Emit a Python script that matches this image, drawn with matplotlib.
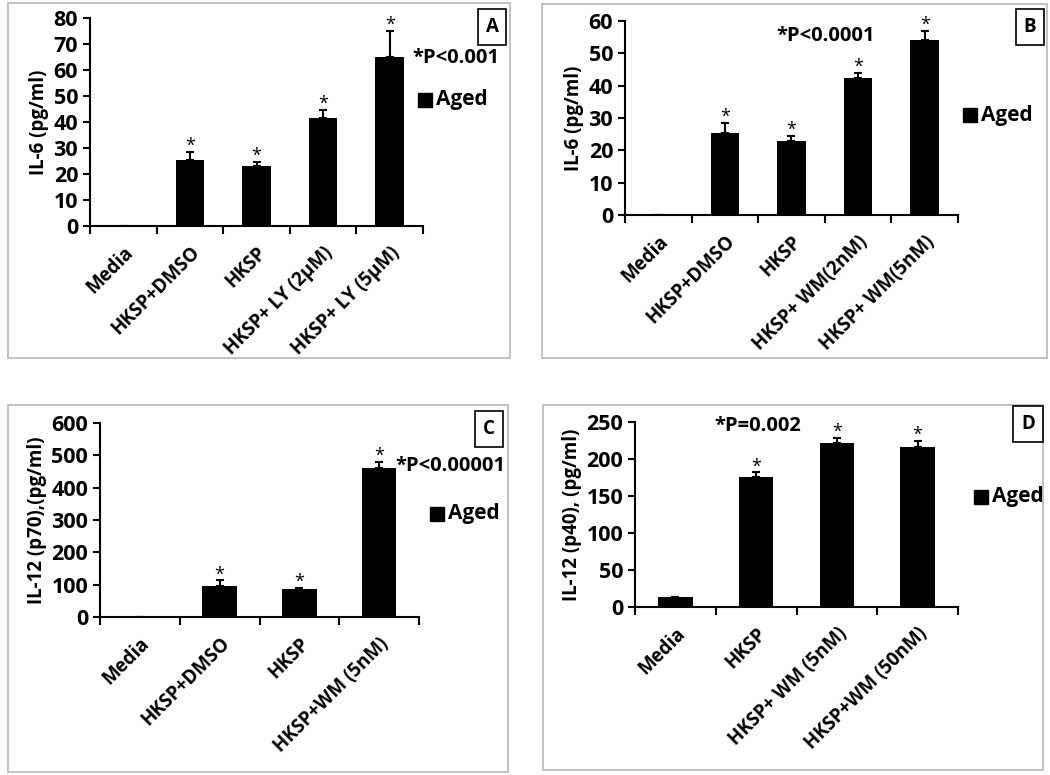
import matplotlib.pyplot as plt
import matplotlib.patches as mpatches
import numpy as np

plt.rcParams['font.family'] = ['Open Sans', 'DejaVu Sans']
plt.rcParams['font.weight'] = 'bold'

# Datos
cats_a = ['Media', 'HKSP+DMSO', 'HKSP', 'HKSP+ LY (2µM)', 'HKSP+ LY (5µM)']
vals_a = [0, 25.5, 23, 41.5, 65]
errs_a = [0, 3, 1.5, 3, 10]
star_a = [False, True, True, True, True]

cats_b = ['Media', 'HKSP+DMSO', 'HKSP', 'HKSP+ WM(2nM)', 'HKSP+ WM(5nM)']
vals_b = [0, 25.5, 23, 42.5, 54]
errs_b = [0, 3, 1.5, 1.5, 3]
star_b = [False, True, True, True, True]

cats_c = ['Media', 'HKSP+DMSO', 'HKSP', 'HKSP+WM (5nM)']
vals_c = [0, 97, 87, 460]
errs_c = [0, 16, 4, 20]
star_c = [False, True, True, True]

cats_d = ['Media', 'HKSP', 'HKSP+ WM (5nM)', 'HKSP+WM (50nM)']
vals_d = [13, 176, 222, 216]
errs_d = [1, 6, 7, 8]
star_d = [False, True, True, True]

W, H = 1050, 775
fig = plt.figure(figsize=(W / 100, H / 100), dpi=100)
fig.patch.set_facecolor('white')


def px_rect(x0, y0, x1, y1):
    """Convierte caja en píxeles (origen arriba-izquierda) a coords de figura."""
    return [x0 / W, 1 - y1 / H, (x1 - x0) / W, (y1 - y0) / H]


def panel_border(x0, y0, x1, y1):
    fig.patches.append(mpatches.Rectangle((x0 / W, 1 - y1 / H), (x1 - x0) / W, (y1 - y0) / H,
                                          transform=fig.transFigure, fill=False,
                                          edgecolor='#bdbdbd', lw=1.3))


def draw(ax, cats, vals, errs, stars, ymax, ystep, ylabel, star_off):
    x = np.arange(len(cats))
    ax.bar(x, vals, width=0.43, color='black', zorder=2)
    ax.errorbar(x, vals, yerr=[np.zeros(len(errs)), errs], fmt='none',
                ecolor='black', elinewidth=1.5, capsize=3, capthick=1.5, zorder=3)
    for xi, v, e, s in zip(x, vals, errs, stars):
        if s:
            ax.text(xi, v + e + star_off, '*', ha='center', va='center',
                    fontsize=13, fontweight='normal')
    ax.set_xlim(-0.5, len(cats) - 0.5)
    ax.set_ylim(0, ymax)
    ax.set_yticks(np.arange(0, ymax + 1, ystep))
    ax.set_xticks(np.arange(len(cats) + 1) - 0.5, minor=False)
    ax.set_xticklabels([])
    ax.set_xticks(x, minor=True)
    ax.set_xticklabels(cats, minor=True, rotation=45, ha='right',
                       rotation_mode='anchor', fontsize=13.5, fontweight='bold')
    ax.tick_params(axis='x', which='minor', length=0, pad=12)
    ax.tick_params(axis='x', which='major', length=6, width=1.5, direction='out')
    ax.tick_params(axis='y', length=5, width=1.5, direction='out', labelsize=15.5)
    for lab in ax.get_yticklabels():
        lab.set_fontweight('bold')
    ax.spines['top'].set_visible(False)
    ax.spines['right'].set_visible(False)
    ax.spines['left'].set_linewidth(1.5)
    ax.spines['bottom'].set_linewidth(1.5)
    ax.set_ylabel(ylabel, fontsize=13.5, fontweight='bold', labelpad=3)


def legend_aged(x, y):
    fig.patches.append(mpatches.Rectangle((x / W, 1 - (y + 7) / H), 14 / W, 14 / H,
                                          transform=fig.transFigure, color='black'))
    fig.text((x + 18) / W, 1 - y / H, 'Aged', fontsize=15, fontweight='bold',
             va='center', ha='left')


def letter(x, y, s):
    fig.text(x / W, 1 - y / H, s, fontsize=13.5, fontweight='bold', ha='center', va='center',
             bbox=dict(boxstyle='square,pad=0.42', facecolor='white', edgecolor='black', lw=1.2))


# Marcos de los paneles
panel_border(8, 3, 510, 358)
panel_border(542, 4, 1047, 358)
panel_border(8, 405, 508, 772)
panel_border(543, 405, 1043, 770)

ax_a = fig.add_axes(px_rect(90, 18, 423, 226))
draw(ax_a, cats_a, vals_a, errs_a, star_a, 80, 10, 'IL-6 (pg/ml)', 2.3)
ax_b = fig.add_axes(px_rect(625, 21, 958, 215))
draw(ax_b, cats_b, vals_b, errs_b, star_b, 60, 10, 'IL-6 (pg/ml)', 1.8)
ax_c = fig.add_axes(px_rect(100, 423, 419, 617))
draw(ax_c, cats_c, vals_c, errs_c, star_c, 600, 100, 'IL-12 (p70),(pg/ml)', 18)
ax_d = fig.add_axes(px_rect(635, 422, 958, 607))
draw(ax_d, cats_d, vals_d, errs_d, star_d, 250, 50, 'IL-12 (p40), (pg/ml)', 8)

# Textos de significancia
fig.text(456 / W, 1 - 58 / H, '*P<0.001', fontsize=14.5, fontweight='bold', ha='center', va='center')
fig.text(826 / W, 1 - 36 / H, '*P<0.0001', fontsize=14.5, fontweight='bold', ha='center', va='center')
fig.text(450 / W, 1 - 466 / H, '*P<0.00001', fontsize=14.5, fontweight='bold', ha='center', va='center')
fig.text(758 / W, 1 - 426 / H, '*P=0.002', fontsize=14.5, fontweight='bold', ha='center', va='center')

# Leyendas
legend_aged(418, 100)
legend_aged(963, 115)
legend_aged(430, 514)
legend_aged(974, 497)

# Letras de panel
letter(492, 27, 'A')
letter(1030, 27, 'B')
letter(489, 429, 'C')
letter(1028, 424, 'D')

plt.savefig('out.png', dpi=100, facecolor='white')
